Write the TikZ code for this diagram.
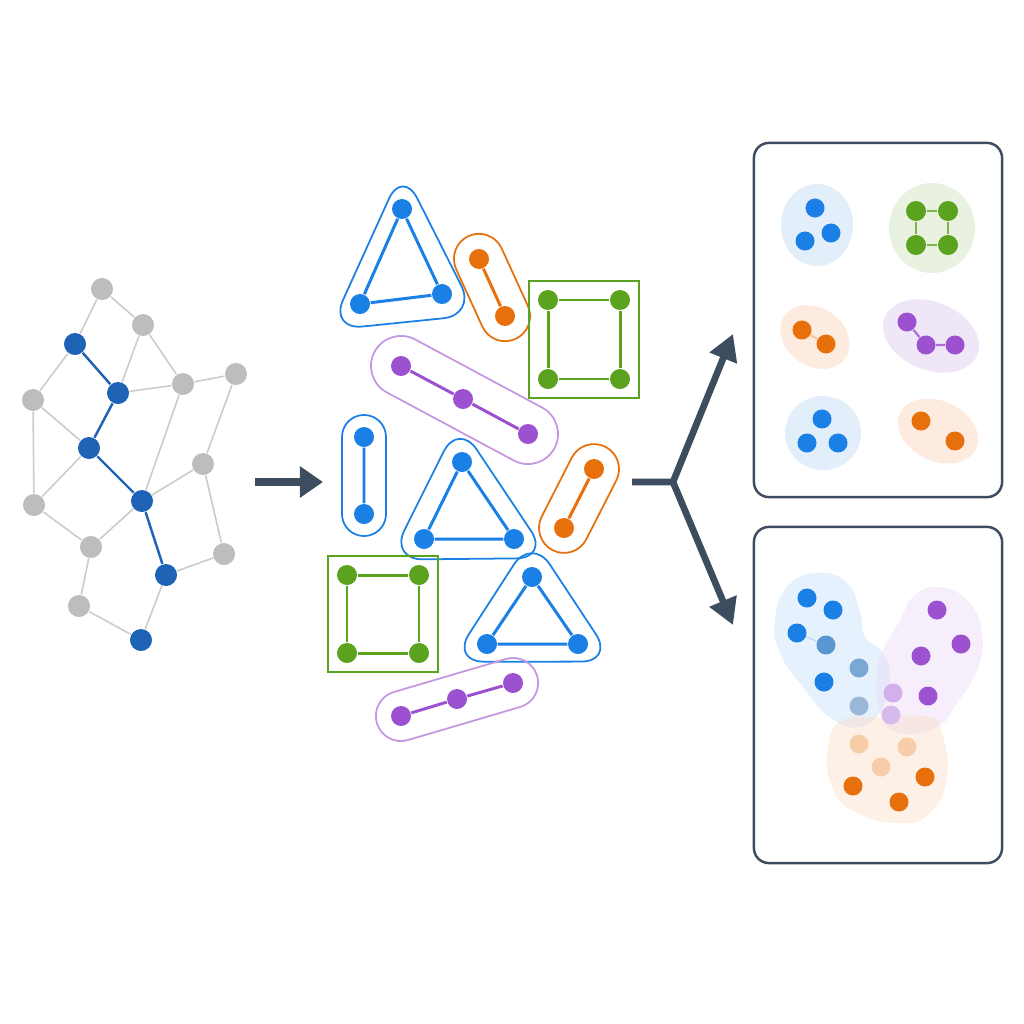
\documentclass[tikz,border=0pt]{standalone}
\usetikzlibrary{arrows.meta,calc,fit,shapes.misc,shapes.geometric}

\definecolor{slate}{HTML}{3D4C5E}
\definecolor{grayn}{HTML}{BDBDBD}
\definecolor{grayl}{HTML}{CBCBCB}
\definecolor{navy}{HTML}{1F63B6}
\definecolor{cblue}{HTML}{1A80E6}
\definecolor{corange}{HTML}{E8700C}
\definecolor{cgreen}{HTML}{5BA31F}
\definecolor{cpurple}{HTML}{9C52D0}
\definecolor{lblue}{HTML}{E3EEFB}
\definecolor{lgreen}{HTML}{E9F2E1}
\definecolor{lorange}{HTML}{FDEBDF}
\definecolor{lpurple}{HTML}{EFE7F8}

\begin{document}
\begin{tikzpicture}[x=0.01cm, y=-0.01cm,
    dot/.style={circle, inner sep=0pt, minimum size=0.2cm},
    pill/.style={rounded rectangle, draw, line width=0.5pt, inner sep=0pt},
    tri/.style={draw, line width=0.5pt, rounded corners=0.33cm},
    blob/.style={ellipse, inner sep=0pt},
    frame/.style={draw=slate, line width=0.7pt, rounded corners=0.15cm, inner sep=0pt},
    bigarrow/.style={slate, line width=1.9pt, line join=miter}]
    \useasboundingbox (0,0) rectangle (1024,1024);

    % Input graph
    \node[dot, fill=grayn, minimum size=0.22cm] (g1) at (102,289) {};
    \node[dot, fill=grayn, minimum size=0.22cm] (g2) at (143,325) {};
    \node[dot, fill=grayn, minimum size=0.22cm] (g3) at (183,384) {};
    \node[dot, fill=grayn, minimum size=0.22cm] (g4) at (236,374) {};
    \node[dot, fill=grayn, minimum size=0.22cm] (g5) at (33,400) {};
    \node[dot, fill=grayn, minimum size=0.22cm] (g6) at (203,464) {};
    \node[dot, fill=grayn, minimum size=0.22cm] (g7) at (34,505) {};
    \node[dot, fill=grayn, minimum size=0.22cm] (g8) at (91,547) {};
    \node[dot, fill=grayn, minimum size=0.22cm] (g9) at (224,554) {};
    \node[dot, fill=grayn, minimum size=0.22cm] (g10) at (79,606) {};
    \node[dot, fill=navy, minimum size=0.22cm] (p1) at (75,344) {};
    \node[dot, fill=navy, minimum size=0.22cm] (p2) at (118,393) {};
    \node[dot, fill=navy, minimum size=0.22cm] (p3) at (89,448) {};
    \node[dot, fill=navy, minimum size=0.22cm] (p4) at (142,501) {};
    \node[dot, fill=navy, minimum size=0.22cm] (p5) at (166,575) {};
    \node[dot, fill=navy, minimum size=0.22cm] (p6) at (141,640) {};
    \draw[grayl, line width=0.45pt] (g1) -- (p1) (g1) -- (g2) (g2) -- (p2) (g2) -- (g3)
        (p2) -- (g3) (g3) -- (g4) (g3) -- (p4) (g4) -- (g6) (p1) -- (g5) (g5) -- (p3)
        (g5) -- (g7) (p3) -- (g7) (p4) -- (g6) (g6) -- (g9) (p4) -- (g8) (g7) -- (g8)
        (g9) -- (p5) (g8) -- (g10) (g10) -- (p6) (p5) -- (p6);
    \draw[navy, line width=0.7pt] (p1) -- (p2) -- (p3) -- (p4) -- (p5);

    % Arrow to motifs
    \coordinate (a1) at (255,482);
    \coordinate (a2) at (323,482);
    \draw[bigarrow, line width=2.2pt, -{Triangle[length=0.23cm, width=0.3cm]}] (a1) -- (a2);

    % Motif instances
    \node[dot, fill=cblue] (t1a) at (402,209) {};
    \node[dot, fill=cblue] (t1b) at (360,304) {};
    \node[dot, fill=cblue] (t1c) at (442,294) {};
    \node[dot, fill=corange] (o1a) at (479,259) {};
    \node[dot, fill=corange] (o1b) at (505,316) {};
    \node[dot, fill=cgreen] (s1a) at (548,300) {};
    \node[dot, fill=cgreen] (s1b) at (620,300) {};
    \node[dot, fill=cgreen] (s1c) at (620,379) {};
    \node[dot, fill=cgreen] (s1d) at (548,379) {};
    \node[dot, fill=cpurple] (q1a) at (401,366) {};
    \node[dot, fill=cpurple] (q1b) at (463,399) {};
    \node[dot, fill=cpurple] (q1c) at (528,434) {};
    \node[dot, fill=cblue] (e1a) at (364,437) {};
    \node[dot, fill=cblue] (e1b) at (364,514) {};
    \node[dot, fill=cblue] (t2a) at (462,462) {};
    \node[dot, fill=cblue] (t2b) at (424,539) {};
    \node[dot, fill=cblue] (t2c) at (514,539) {};
    \node[dot, fill=corange] (o2a) at (594,469) {};
    \node[dot, fill=corange] (o2b) at (564,528) {};
    \node[dot, fill=cgreen] (s2a) at (347,575) {};
    \node[dot, fill=cgreen] (s2b) at (419,575) {};
    \node[dot, fill=cgreen] (s2c) at (419,653) {};
    \node[dot, fill=cgreen] (s2d) at (347,653) {};
    \node[dot, fill=cblue] (t3a) at (532,577) {};
    \node[dot, fill=cblue] (t3b) at (487,644) {};
    \node[dot, fill=cblue] (t3c) at (578,644) {};
    \node[dot, fill=cpurple] (q2a) at (401,716) {};
    \node[dot, fill=cpurple] (q2b) at (457,699) {};
    \node[dot, fill=cpurple] (q2c) at (513,683) {};

    \draw[cblue, line width=0.85pt] (t1a) -- (t1b) -- (t1c) -- (t1a) (e1a) -- (e1b)
        (t2a) -- (t2b) -- (t2c) -- (t2a) (t3a) -- (t3b) -- (t3c) -- (t3a);
    \draw[corange, line width=0.85pt] (o1a) -- (o1b) (o2a) -- (o2b);
    \draw[cgreen, line width=0.85pt] (s1a) -- (s1b) -- (s1c) -- (s1d) -- (s1a)
        (s2a) -- (s2b) -- (s2c) -- (s2d) -- (s2a);
    \draw[cpurple, line width=0.85pt] (q1a) -- (q1b) -- (q1c) (q2a) -- (q2b) -- (q2c);

    % Outlines round each instance
    \coordinate (t1m) at (barycentric cs:t1a=1,t1b=1,t1c=1);
    \coordinate (t2m) at (barycentric cs:t2a=1,t2b=1,t2c=1);
    \coordinate (t3m) at (barycentric cs:t3a=1,t3b=1,t3c=1);
    \draw[tri, cblue] ($(t1b)!-0.4cm!(t1m)$) -- ($(t1c)!-0.4cm!(t1m)$) -- ($(t1a)!-0.4cm!(t1m)$) -- cycle;
    \draw[tri, cblue] ($(t2b)!-0.4cm!(t2m)$) -- ($(t2c)!-0.4cm!(t2m)$) -- ($(t2a)!-0.4cm!(t2m)$) -- cycle;
    \draw[tri, cblue] ($(t3b)!-0.4cm!(t3m)$) -- ($(t3c)!-0.4cm!(t3m)$) -- ($(t3a)!-0.4cm!(t3m)$) -- cycle;
    \node[pill, draw=corange, rotate=-65.5, minimum width=1.13cm, minimum height=0.5cm] (op1) at ($(o1a)!0.5!(o1b)$) {};
    \node[pill, draw=corange, rotate=63, minimum width=1.16cm, minimum height=0.5cm] (op2) at ($(o2a)!0.5!(o2b)$) {};
    \node[pill, draw=cblue, rotate=90, minimum width=1.21cm, minimum height=0.44cm] (ep1) at ($(e1a)!0.5!(e1b)$) {};
    \node[pill, draw=cpurple!60, rotate=-28.2, minimum width=2.04cm, minimum height=0.6cm] (qp1) at ($(q1a)!0.5!(q1c)$) {};
    \node[pill, draw=cpurple!60, rotate=16.4, minimum width=1.67cm, minimum height=0.5cm] (qp2) at ($(q2a)!0.5!(q2c)$) {};
    \node[draw=cgreen, line width=0.5pt, fit=(s1a)(s1c), inner sep=0.08cm] (sb1) {};
    \node[draw=cgreen, line width=0.5pt, fit=(s2a)(s2c), inner sep=0.08cm] (sb2) {};

    % Split arrow
    \coordinate (b0) at (632,482);
    \coordinate (fork) at (673,482);
    \coordinate (up) at (733,334);
    \coordinate (down) at (733,625);
    \draw[bigarrow, -{Triangle[length=0.26cm, width=0.28cm]}] (b0) -- (fork) -- (up);
    \draw[bigarrow, -{Triangle[length=0.26cm, width=0.28cm]}] (fork) -- (down);

    % Panel: separate motif classes
    \node[frame, minimum width=2.48cm, minimum height=3.54cm] (panA) at (878,320) {};
    \node[blob, fill=lblue, minimum width=0.72cm, minimum height=0.82cm] (ca1) at (817,225) {};
    \node[blob, fill=lgreen, minimum width=0.86cm, minimum height=0.9cm] (ca2) at (932,228) {};
    \node[blob, fill=lorange, rotate=-35, minimum width=0.74cm, minimum height=0.58cm] (ca3) at (815,337) {};
    \node[blob, fill=lpurple, rotate=-22, minimum width=1cm, minimum height=0.68cm] (ca4) at (931,336) {};
    \node[blob, fill=lblue, minimum width=0.76cm, minimum height=0.74cm] (ca5) at (823,433) {};
    \node[blob, fill=lorange, rotate=-25, minimum width=0.84cm, minimum height=0.6cm] (ca6) at (938,431) {};

    \node[dot, fill=cblue, minimum size=0.19cm] (k1) at (815,208) {};
    \node[dot, fill=cblue, minimum size=0.19cm] (k2) at (805,241) {};
    \node[dot, fill=cblue, minimum size=0.19cm] (k3) at (831,233) {};
    \node[dot, fill=cgreen, minimum size=0.2cm] (m1) at (916,211) {};
    \node[dot, fill=cgreen, minimum size=0.2cm] (m2) at (948,211) {};
    \node[dot, fill=cgreen, minimum size=0.2cm] (m3) at (948,245) {};
    \node[dot, fill=cgreen, minimum size=0.2cm] (m4) at (916,245) {};
    \node[dot, fill=corange, minimum size=0.19cm] (r1) at (802,330) {};
    \node[dot, fill=corange, minimum size=0.19cm] (r2) at (826,344) {};
    \node[dot, fill=cpurple, minimum size=0.19cm] (u1) at (907,322) {};
    \node[dot, fill=cpurple, minimum size=0.19cm] (u2) at (926,345) {};
    \node[dot, fill=cpurple, minimum size=0.19cm] (u3) at (955,345) {};
    \node[dot, fill=cblue, minimum size=0.19cm] (k4) at (822,419) {};
    \node[dot, fill=cblue, minimum size=0.19cm] (k5) at (807,443) {};
    \node[dot, fill=cblue, minimum size=0.19cm] (k6) at (838,443) {};
    \node[dot, fill=corange, minimum size=0.19cm] (r3) at (921,421) {};
    \node[dot, fill=corange, minimum size=0.19cm] (r4) at (955,441) {};
    \draw[cgreen!80, line width=0.6pt] (m1) -- (m2) -- (m3) -- (m4) -- (m1);
    \draw[corange!40, line width=0.6pt] (r1) -- (r2);
    \draw[cpurple!85, line width=0.6pt] (u1) -- (u2) -- (u3);

    % Panel: overlapping motif classes
    \node[frame, minimum width=2.48cm, minimum height=3.36cm] (panB) at (878,695) {};
    \fill[cblue!25, fill opacity=0.45] plot[smooth cycle, tension=0.8] coordinates {(817,573)
        (847,583) (860,613) (865,637) (883,653) (890,677) (883,707) (860,727) (830,717)
        (803,687) (780,653) (775,620) (787,587)};
    \fill[cpurple!20, fill opacity=0.45] plot[smooth cycle, tension=0.8] coordinates {(937,587)
        (967,600) (982,633) (977,670) (957,703) (937,727) (900,733) (880,713) (877,670)
        (883,650) (900,620) (913,597)};
    \fill[corange!25, fill opacity=0.4] plot[smooth cycle, tension=0.8] coordinates {(843,720)
        (883,717) (930,717) (942,733) (947,777) (930,813) (900,823) (857,813) (832,787)
        (828,747)};

    \node[dot, fill=cblue, minimum size=0.19cm] (w1) at (807,598) {};
    \node[dot, fill=cblue, minimum size=0.19cm] (w2) at (833,610) {};
    \node[dot, fill=cblue, minimum size=0.19cm] (w3) at (797,633) {};
    \node[dot, fill=cblue, minimum size=0.19cm] (w4) at (824,682) {};
    \node[dot, fill=cblue!70!gray, fill opacity=0.8, minimum size=0.19cm] (w5) at (826,645) {};
    \node[dot, fill=cblue!60!gray, fill opacity=0.65, minimum size=0.19cm] (w6) at (859,668) {};
    \node[dot, fill=cblue!50!gray, fill opacity=0.5, minimum size=0.19cm] (w7) at (859,706) {};
    \node[dot, fill=cpurple, minimum size=0.19cm] (v1) at (937,610) {};
    \node[dot, fill=cpurple, minimum size=0.19cm] (v2) at (961,644) {};
    \node[dot, fill=cpurple, minimum size=0.19cm] (v3) at (921,656) {};
    \node[dot, fill=cpurple, minimum size=0.19cm] (v4) at (928,696) {};
    \node[dot, fill=cpurple!45, minimum size=0.19cm] (v5) at (893,693) {};
    \node[dot, fill=cpurple!40, minimum size=0.19cm] (v6) at (891,715) {};
    \node[dot, fill=corange!35, minimum size=0.19cm] (h1) at (859,744) {};
    \node[dot, fill=corange!35, minimum size=0.19cm] (h2) at (907,747) {};
    \node[dot, fill=corange!35, minimum size=0.19cm] (h3) at (881,767) {};
    \node[dot, fill=corange, minimum size=0.19cm] (h4) at (853,786) {};
    \node[dot, fill=corange, minimum size=0.19cm] (h5) at (925,777) {};
    \node[dot, fill=corange, minimum size=0.19cm] (h6) at (899,802) {};
    \draw[cblue!30, line width=0.4pt] (w3) -- (w5);
\end{tikzpicture}
\end{document}
